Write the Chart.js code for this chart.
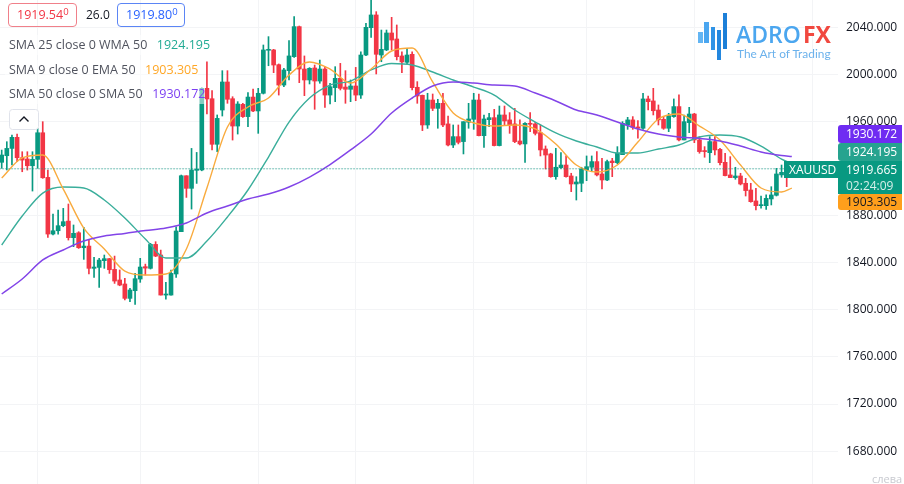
<!DOCTYPE html>
<html>
<head>
<meta charset="utf-8">
<script src="https://cdn.jsdelivr.net/npm/chart.js@4"></script>
<style>
html,body{margin:0;padding:0;background:#fff;overflow:hidden}
#wrap{position:relative;width:904px;height:484px;font-family:"Open Sans",sans-serif;color:#131722}
canvas{position:absolute;left:0;top:0}
.abs{position:absolute;white-space:nowrap}
.chip{box-sizing:border-box;height:24px;top:3px;border:1px solid;border-radius:4px;font-size:12.5px;line-height:22px;padding-left:8px}
.chip sup{font-size:9.5px;line-height:0;vertical-align:4px}
.row{left:5px;height:20px;line-height:20px;font-size:12.5px;padding:0 0 0 4px;background:rgba(255,255,255,.5);color:#50535e}
.row b{font-weight:400;margin-left:9.5px}
.tag{left:838px;width:64px;box-sizing:border-box;padding-left:8px;color:#fff;font-size:12px;border-radius:3px 0 0 3px}
.bar{position:absolute;width:4.5px}
</style>
</head>
<body>
<div id="wrap">
<canvas id="c" width="904" height="484"></canvas>

<div class="abs chip" style="left:8px;width:69px;border-color:#f0808a;color:#f23645">1919.54<sup>0</sup></div>
<div class="abs" style="left:86px;top:6px;font-size:12px;line-height:18px;color:#131722">26.0</div>
<div class="abs chip" style="left:117px;width:68px;border-color:#5b85f5;color:#2962ff">1919.80<sup>0</sup></div>

<div class="abs row" style="top:35px">SMA 25 close 0 WMA 50<b style="color:#22ab94">1924.195</b></div>
<div class="abs row" style="top:60px">SMA 9 close 0 EMA 50<b style="color:#ffa726">1903.305</b></div>
<div class="abs row" style="top:84px">SMA 50 close 0 SMA 50<b style="color:#7b3ff2">1930.172</b></div>
<svg class="abs" style="left:9px;top:109px" width="30" height="21"><rect x=".5" y=".5" width="29" height="20" rx="3" fill="#fff" stroke="#e0e3eb"/><path d="M10.5 12.5 L15 8 L19.5 12.5" fill="none" stroke="#131722" stroke-width="1.4"/></svg>

<div class="bar" style="left:698px;top:32px;height:11px;background:#63b5f3"></div>
<div class="bar" style="left:704px;top:22px;height:21px;background:#4aa6f0"></div>
<div class="bar" style="left:710.5px;top:27px;height:23px;background:#2f93e6"></div>
<div class="bar" style="left:716.5px;top:30px;height:30px;background:#2387de"></div>
<div class="bar" style="left:722.5px;top:13px;height:36px;background:#1c7fd8"></div>
<div class="abs" style="left:736px;top:19px;font-size:23px;line-height:30px;font-weight:600;color:#4ba6ef">ADRO</div>
<div class="abs" style="left:803px;top:19px;font-size:23px;line-height:30px;font-weight:700;color:#f1483f">FX</div>
<div class="abs" style="left:737px;top:45px;font-family:Lato,sans-serif;font-size:11.9px;line-height:18px;color:#6cb2ec">The Art of Trading</div>

<div class="abs tag" style="top:125px;height:18px;line-height:18px;background:#6f2cf2">1930.172</div>
<div class="abs tag" style="top:143px;height:18px;line-height:18px;background:#26a38f">1924.195</div>
<div class="abs" style="left:784px;top:161px;width:54px;height:17px;line-height:17px;background:#089981;color:#fff;font-size:12px;padding-left:5px;box-sizing:border-box">XAUUSD</div>
<div class="abs tag" style="top:161px;height:33px;line-height:16px;padding-top:1px;background:#089981;border-radius:0">1919.665<br><span style="color:#d5efe9">02:24:09</span></div>
<div class="abs tag" style="top:194px;height:16px;line-height:16px;background:#ff9f1c;color:#131722">1903.305</div>
<div class="abs" style="left:872px;top:472px;font-size:11px;line-height:14px;color:#c8cad0">слева</div>
</div>

<script>
const opens=[1925.2,1930.8,1937.0,1946.4,1929.1,1928.0,1922.3,1927.7,1950.3,1912.4,
1864.3,1867.1,1871.4,1875.3,1861.2,1865.4,1852.7,1854.1,1835.2,1836.0,
1841.7,1843.4,1834.3,1825.3,1821.9,1809.7,1816.2,1826.1,1836.6,1835.2,
1855.5,1846.5,1812.5,1812.5,1830.4,1866.3,1913.8,1903.1,1918.4,1918.7,
1988,1979.2,1940.5,1969.6,1993.4,1979.2,1956,1974.4,1964,1980.6,
1968.8,1983.8,2020.3,2020.6,2008.1,1990.8,2003,2014.9,2040.4,2004.4,
1995.1,2005.3,1994.2,2004.4,1982.3,1988.6,1996.5,1989.1,1987.2,1990,
1982.3,2016.3,2039.5,2050.3,2016.3,2020.6,2035,2029.9,2015.5,2010.1,
2016.9,1988.9,1982.1,1956.9,1978.1,1971,1975.3,1957.8,1939.9,1947,
1942.8,1959.2,1961.7,1978.1,1947.8,1961.4,1963.1,1939.4,1965.4,1961.2,
1957.8,1943.3,1940.8,1958.3,1957.8,1950.4,1936.5,1932.3,1913,1920.7,
1922.9,1913.6,1906.8,1907.4,1918.7,1921,1925.8,1915.3,1910.2,1926.3,
1924.9,1931.7,1956.9,1961.2,1955.2,1954.1,1979,1977.3,1969.6,1961.7,
1954.1,1964,1972.5,1944.2,1958.9,1966.2,1944.2,1935.1,1933.4,1942.8,
1936.2,1925.2,1914.5,1912.2,1913.6,1907.4,1901.7,1892.4,1888.4,1888.4,
1894.1,1897.2,1914.5,1919,1918];
const highs=[1935.6,1942.7,1948.4,1949.2,1934.2,1934.2,1934.2,1954.0,1959.7,1918.7,
1881.3,1884.7,1886.1,1889.8,1872,1866.3,1870,1859.2,1844.5,1843.7,
1846.5,1843.7,1845.6,1833.8,1826.7,1818.2,1830.9,1843.7,1838.8,1856.4,
1857.8,1850.7,1823.3,1833.8,1870.5,1914.4,1913.8,1937,1933.6,1988.5,
2010.6,1986,1965.4,2003,2003,1980.9,1976.7,1975.3,1984.3,1987.4,
1988,2024.8,2031.9,2021.1,2008.7,2005,2028.5,2048.9,2040.9,2015.5,
2005.6,2007.8,2012,2006.4,1992.3,2006.4,2009.2,2003,1995.1,2005.8,
2019.1,2043.2,2066,2053.1,2037.5,2037.5,2048.3,2041.8,2019.1,2022,
2019.1,1993.7,1982.3,1983.8,1983.2,1978.7,1983.8,1964.5,1956.9,1956.9,
1959.7,1975.3,1983.8,1983.2,1965.4,1966.8,1970.2,1973,1973,1967.4,
1971,1961.2,1958.9,1967.4,1959.2,1956.9,1939.1,1932.9,1937.1,1933.4,
1930.6,1915.9,1913,1921,1930.6,1930.6,1934.3,1928.6,1927.2,1928.6,
1938.5,1959.7,1963.4,1964,1960.6,1983.8,1981.5,1988,1973.9,1964,
1966.8,1979,1982.4,1965.4,1971.9,1966.8,1947,1938.5,1947,1947,
1937.1,1932.9,1930,1921,1915.9,1911.6,1907.4,1903.1,1896.6,1897.5,
1904.5,1920.1,1922.9,1926,1922];
const lows=[1920.1,1918.7,1922.9,1925.7,1917.2,1918.6,1900.8,1920.1,1911.6,1861.5,
1863.5,1864.3,1870.5,1859.2,1853.6,1852.1,1842.8,1830.4,1827.5,1819,
1835.2,1830.9,1822.4,1820.4,1808.3,1806.9,1804.6,1823.3,1829.5,1834.6,
1845.1,1812.5,1809.1,1812.5,1827.5,1866.3,1895.4,1885.5,1907.3,1918,
1966.2,1935.7,1934.2,1964.5,1975.3,1944.1,1949.2,1963.4,1955.5,1968.2,
1949.8,1983.2,2007.2,2001.3,1982.3,1989.4,1995.1,2014.3,1992.8,1981.8,
1991.7,1970.2,1992.3,1971.9,1974.7,1976.7,1986.6,1975.3,1976.7,1977.5,
1979.5,2015.7,2031.3,2000.2,2010.6,2020,2020.6,2012.1,2001.3,2008.7,
1986.6,1975.3,1952.1,1954,1969.1,1954.1,1955.5,1939.1,1937.7,1940.8,
1932.3,1954.1,1953.2,1947.6,1937.9,1955.5,1939.1,1939.1,1956.9,1949.8,
1941.9,1939.9,1925.2,1951.2,1948.4,1930.6,1919.5,1912.5,1910.8,1920.1,
1912.5,1900.3,1893.2,1900.3,1909.6,1917.3,1913.6,1902.6,1909.6,1913,
1923.8,1931.7,1953.2,1953.2,1945.6,1953.2,1969.6,1965.4,1956.9,1953.2,
1951.2,1963.4,1943.3,1944.2,1950.4,1941.9,1932.9,1929.5,1924.9,1931.4,
1922.9,1913.6,1912.2,1910.8,1906,1896.6,1891.3,1884.7,1886.2,1885.3,
1889,1896.6,1912.5,1904.5,1916];
const closes=[1931.4,1937,1946.4,1929.1,1927.1,1922.3,1927.7,1950.3,1912.1,1864.3,
1867.1,1871.4,1874.8,1861.2,1864.9,1852.7,1854.1,1835.2,1836.3,1842.2,
1843.4,1834,1824.4,1821,1809.7,1816.8,1826.4,1836.3,1835.4,1855.5,
1845.6,1812.5,1813.4,1830.9,1866.9,1913.8,1903.1,1918.7,1919.2,1988,
1979,1940.5,1962.5,1993.4,1978.7,1956,1974.7,1964,1980.6,1968.8,
1983.8,2020.6,2020.8,2007.8,1990.8,2003.6,2015.5,2040.4,2004.4,1995.1,
2005,1994.2,2004.4,1982.3,1989.4,1996.5,1988,1987.2,1990,1982.3,
2016.3,2039.8,2050.3,2016.9,2021.1,2035,2029,2014.9,2010.4,2016.3,
1988.6,1981.5,1956.9,1978.1,1971,1975.3,1956.9,1939.9,1947,1942.2,
1959.7,1962,1978.1,1947.8,1962,1963.1,1939.4,1965.4,1960.3,1957.2,
1942.8,1940.8,1958.3,1957.5,1949.8,1935.7,1931.4,1913,1921,1922.9,
1913,1906.8,1908.5,1919.5,1921.5,1925.8,1914.5,1910.2,1925.8,1924.9,
1932.9,1958.3,1961.2,1954.9,1954.1,1979,1976.7,1969,1961.2,1954.1,
1964.8,1972.5,1944.2,1959.7,1966.2,1944.2,1934.3,1934.3,1942.8,1935.7,
1924.9,1913.9,1912.2,1913.6,1906.8,1901.2,1891.8,1888.4,1889,1894.6,
1897.5,1915.3,1916.7,1916,1919.665];
const lineIndex=[0,4,8,12,16,20,24,28,32,36,40,44,48,52,56,60,64,68,72,76,80,84,88,92,96,100,104,108,112,116,120,124,128,132,136,140,144,148,152,154];
const wmaValues=[1855,1879.6,1899.1,1904.2,1903.4,1893.2,1877.9,1860.1,1844,1844,1858.4,1878.8,1901.7,1929.7,1959.4,1979.8,1990.8,1994.2,2003.6,2009.1,2007.8,2001.9,1995.1,1989.1,1982.3,1969.6,1959.4,1950.1,1943.3,1938.2,1933.1,1933.1,1936.5,1939.9,1946.7,1948.4,1946.7,1939,1928,1924.195];
const emaValues=[1911.9,1928.9,1931.4,1902.5,1869.4,1851.6,1832.9,1829.5,1830.4,1851.6,1903.4,1955.2,1972.2,1979.8,1999.3,2010.4,2004.4,1992.5,2004.4,2019.7,2022.2,1993.4,1967.1,1958.6,1956,1956.9,1953.5,1940.7,1922.9,1917,1922.9,1942.4,1962,1966.2,1956,1944.1,1922.9,1903.4,1900,1903.305];
const smaValues=[1813.4,1826.1,1842.3,1850.8,1858.4,1862.6,1864.8,1867.3,1869.4,1873.7,1882.2,1888.1,1894.1,1898.3,1904.2,1912.7,1923.3,1935.7,1949.2,1967.1,1979.8,1990,1993.4,1992.5,1990.8,1990,1984,1977.3,1969.6,1965.4,1959.4,1953.5,1949.2,1946.7,1945.4,1943.3,1939,1934,1931,1930.172];
const priceTicks=[2040,2000,1960,1920,1880,1840,1800,1760,1720,1680];
const sessionTicks=[7,27,50,69,92,114,135,158];

const UP='#089981',DOWN='#f23645',GRID='#f3f4f6';
const colors=opens.map((o,i)=>closes[i]>=o?UP:DOWN);
const wicks=opens.map((o,i)=>({x:i,y:[lows[i],highs[i]]}));
const bodies=opens.map((o,i)=>({x:i,y:[o,closes[i]]}));
const maLine=(vals,color,w,order)=>({type:'line',data:lineIndex.map((k,i)=>({x:k,y:vals[i]})),borderColor:color,borderWidth:w,pointRadius:0,cubicInterpolationMode:'monotone',fill:false,order});
const last=closes[closes.length-1];

new Chart(document.getElementById('c'),{
  type:'bar',
  data:{datasets:[
    {data:wicks,backgroundColor:colors,barThickness:1,grouped:false,order:6},
    {data:bodies,backgroundColor:colors,barThickness:4,minBarLength:1,grouped:false,order:5},
    maLine(wmaValues,'#3aae9b',1.4,4),
    maLine(emaValues,'#f9ab3e',1.4,3),
    maLine(smaValues,'#8244e8',1.5,2),
    {type:'line',data:[{x:-1,y:last},{x:154,y:last}],borderColor:UP,borderWidth:1,borderDash:[1,2],pointRadius:0,order:1}
  ]},
  options:{
    responsive:false,animation:false,devicePixelRatio:1,
    layout:{padding:0,autoPadding:false},
    plugins:{legend:{display:false},tooltip:{enabled:false},title:{display:false}},
    scales:{
      x:{type:'linear',min:-0.33,max:163,offset:false,
        border:{display:false},
        grid:{color:GRID,offset:false,drawTicks:false},
        ticks:{display:false,autoSkip:false},
        afterBuildTicks:s=>{s.ticks=sessionTicks.map(v=>({value:v}));},
        afterFit:s=>{s.height=0;s.paddingLeft=0;s.paddingRight=0;}},
      y:{position:'right',min:1652.1,max:2063,
        border:{display:false},
        grid:{color:GRID,drawTicks:false},
        ticks:{color:'#131722',padding:8,autoSkip:false,font:{family:'"Open Sans"',size:12},callback:v=>Number(v).toFixed(3)},
        afterBuildTicks:s=>{s.ticks=priceTicks.map(v=>({value:v}));},
        afterFit:s=>{s.width=66;s.paddingTop=0;s.paddingBottom=0;}}
    }
  }
});
</script>
</body>
</html>
